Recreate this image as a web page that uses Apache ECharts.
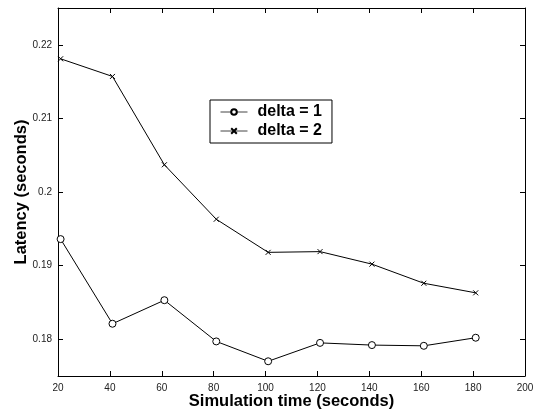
<!DOCTYPE html>
<html>
<head>
<meta charset="utf-8">
<script src="https://cdn.jsdelivr.net/npm/echarts@6/dist/echarts.min.js"></script>
<style>
  html, body { margin: 0; padding: 0; background: #fff; }
  #main { width: 538px; height: 413px; }
</style>
</head>
<body>
<div id="main"></div>
<script>
// simulation time (x) and latency for each delta
var times = [21, 41, 61, 81, 101, 121, 141, 161, 181];
var delta1 = [0.1936, 0.1821, 0.1853, 0.1797, 0.1770, 0.1795, 0.1792, 0.1791, 0.1802];
var delta2 = [0.2181, 0.2157, 0.2037, 0.1963, 0.1918, 0.1919, 0.1902, 0.1876, 0.1863];
var seriesNames = ['delta = 1', 'delta = 2'];
var yTicks = [0.18, 0.19, 0.2, 0.21, 0.22];

var font = 'Liberation Sans, Arial, sans-serif';
var crossPath = 'path://M0,0L10,10M10,0L0,10';

function pairs(ys) {
    return times.map(function (t, i) { return [t, ys[i]]; });
}

var myChart = echarts.init(document.getElementById('main'));

var boxAxisX = {
    type: 'value', min: 20, max: 200, interval: 20,
    axisLine: { lineStyle: { color: '#000', width: 1 } },
    axisTick: { inside: true, length: 5, lineStyle: { color: '#000' } },
    splitLine: { show: false }
};
var yTick = { show: true, inside: true, length: 5, lineStyle: { color: '#000' }, customValues: yTicks };
var boxAxisY = {
    type: 'value', min: 0.175, max: 0.225,
    axisLine: { show: true, lineStyle: { color: '#000', width: 1 } },
    axisTick: yTick,
    splitLine: { show: false }
};

var option = {
    animation: false,
    grid: { left: 58, right: 13, top: 8, bottom: 37, outerBoundsMode: 'none' },
    legend: {
        data: seriesNames,
        left: 210, top: 100,
        orient: 'vertical',
        itemWidth: 27, itemHeight: 7, itemGap: 3,
        padding: [4, 10, 4, 10],
        borderColor: '#000', borderWidth: 1,
        backgroundColor: '#fff', borderRadius: 0,
        lineStyle: { width: 1, color: '#444' },
        textStyle: { fontFamily: font, fontWeight: 'bold', fontSize: 16, color: '#000',
                     padding: [0, 0, 0, 5] }
    },
    xAxis: [
        Object.assign({}, boxAxisX, {
            position: 'bottom',
            name: 'Simulation time (seconds)',
            nameLocation: 'middle', nameGap: 17, nameMoveOverlap: false,
            nameTextStyle: { fontFamily: font, fontWeight: 'bold', fontSize: 16.5, color: '#000' },
            axisLabel: { fontFamily: font, fontSize: 10, color: '#222', margin: 7,
                         showMinLabel: true, showMaxLabel: true }
        }),
        Object.assign({}, boxAxisX, { position: 'top', axisLabel: { show: false } })
    ],
    yAxis: [
        Object.assign({}, boxAxisY, {
            position: 'left',
            name: 'Latency (seconds)',
            nameLocation: 'middle', nameGap: 28, nameMoveOverlap: false,
            nameTextStyle: { fontFamily: font, fontWeight: 'bold', fontSize: 16.5, color: '#000' },
            axisLabel: {
                fontFamily: font, fontSize: 10, color: '#222', margin: 6,
                customValues: yTicks,
                formatter: function (v) { return String(+v.toFixed(3)); }
            }
        }),
        Object.assign({}, boxAxisY, {
            position: 'right',
            axisLabel: { show: false, customValues: yTicks }
        })
    ],
    series: [{
        name: seriesNames[0],
        type: 'line',
        data: pairs(delta1),
        symbol: 'circle', symbolSize: 7,
        itemStyle: { color: '#fff', borderColor: '#000', borderWidth: 1 },
        lineStyle: { color: '#000', width: 1 }
    }, {
        name: seriesNames[1],
        type: 'line',
        data: pairs(delta2),
        symbol: crossPath, symbolSize: 5,
        itemStyle: { color: '#000', borderColor: '#000', borderWidth: 1 },
        lineStyle: { color: '#000', width: 1 }
    }]
};

myChart.setOption(option);
</script>
</body>
</html>
